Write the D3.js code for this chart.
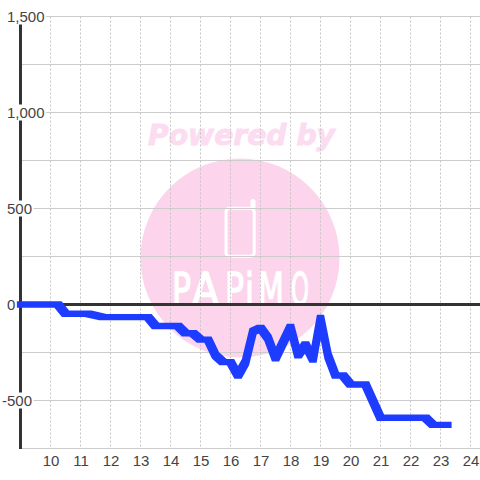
<!DOCTYPE html>
<html><head><meta charset="utf-8">
<script src="https://cdnjs.cloudflare.com/ajax/libs/d3/7.8.5/d3.min.js"></script>
<style>html,body{margin:0;padding:0;background:#fff}svg{display:block}</style></head>
<body><svg id="c" width="480" height="480"></svg>
<script>
const hours=[9,10.25,10.5,11.25,11.75,13.25,13.5,14.25,14.5,14.75,15,15.25,15.5,15.75,16,16.25,16.5,16.75,17,17.25,17.5,18,18.25,18.5,18.75,19,19.25,19.5,19.75,20,20.5,21,22.5,22.75,23.25];
const values=[0,0,-48,-48,-66,-66,-112,-112,-150,-150,-183,-183,-265,-300,-300,-370,-300,-140,-122,-175,-280,-117,-265,-208,-287,-70,-267,-370,-370,-417,-417,-590,-590,-627,-627];
const xTicks=[10,11,12,13,14,15,16,17,18,19,20,21,22,23,24];
const yLabels=["-500","0","500","1,000","1,500"];
const yLabelValues=[-500,0,500,1000,1500];
const yGrid=[-750,-500,-250,250,500,750,1000,1250,1500];
const wmLetters=["P","A","P","i","M","O"];
const wmLeft=[172,192,225,245,258,291];
const wmWidth=[19,27,19,9,26,18];
const x=d3.scaleLinear().domain([9,24.33]).range([20.5,480.4]);
const y=d3.scaleLinear().domain([-750,1500]).range([448.5,16.5]);
const svg=d3.select("#c");
const font="'Liberation Sans',Arial,sans-serif";
// watermark
const wm=svg.append("g");
wm.append("circle").attr("cx",240).attr("cy",258).attr("r",99.5).attr("fill","#fcd5ec");
wm.append("text").attr("x",241.5).attr("y",145).attr("text-anchor","middle").attr("font-family","'DejaVu Sans'").attr("font-weight","bold").attr("font-style","italic").attr("font-size",28).attr("textLength",187).attr("lengthAdjust","spacingAndGlyphs").attr("fill","#fcdcf0").attr("stroke","#fcdcf0").attr("stroke-width",0.9).text("Powered by");
wm.append("rect").attr("x",226).attr("y",208.2).attr("width",28.2).attr("height",48).attr("rx",3.5).attr("fill","none").attr("stroke","#fff").attr("stroke-width",3);
wm.append("line").attr("x1",253).attr("x2",253).attr("y1",208).attr("y2",201.500).attr("stroke","#fff").attr("stroke-width",5).attr("stroke-linecap","round");
wm.append("g").selectAll("text").data(wmLetters).join("text").attr("font-family","'DejaVu Sans'").attr("font-size",44).attr("fill","#fff").attr("stroke","#fff").attr("stroke-width",1.4).text(d=>d)
  .attr("transform",function(d,i){return `translate(${wmLeft[i]},305) scale(${wmWidth[i]/this.getComputedTextLength()},1)`;});
// grid
svg.append("g").selectAll("line").data(yGrid).join("line").attr("x1",x(9)).attr("x2",480).attr("y1",d=>y(d)).attr("y2",d=>y(d)).attr("stroke","#cccccc").attr("stroke-width",1);
svg.append("g").selectAll("line").data(xTicks).join("line").attr("x1",d=>x(d)).attr("x2",d=>x(d)).attr("y1",y(1500)).attr("y2",y(-750)).attr("stroke","#c4c4c4").attr("stroke-width",1).attr("stroke-dasharray","2,2");
// axes
svg.append("line").attr("x1",x(9)).attr("x2",480).attr("y1",y(0)).attr("y2",y(0)).attr("stroke","#333").attr("stroke-width",3);
svg.append("line").attr("x1",x(9)).attr("x2",x(9)).attr("y1",y(1500)).attr("y2",y(-750)+0.5).attr("stroke","#333").attr("stroke-width",3);
// y labels with white boxes
const yl=svg.append("g").selectAll("g").data(yLabels).join("g");
const yt=yl.append("text").attr("x",d=>d[0]==="-"?2:7).attr("y",(d,i)=>y(yLabelValues[i])+5.5).attr("font-family",font).attr("font-size",15).attr("fill","#444").text(d=>d);
yl.insert("rect","text").each(function(d,i){
  const t=this.parentNode.querySelector("text").getBBox();
  d3.select(this).attr("x",t.x).attr("y",y(yLabelValues[i])-8).attr("width",t.width+1.5).attr("height",16).attr("fill",d==="0"?"none":"#fff");
});
// x labels
svg.append("g").selectAll("text").data(xTicks).join("text").attr("x",d=>x(d)+0.5).attr("y",466).attr("text-anchor","middle").attr("font-family",font).attr("font-size",15).attr("fill","#444").text(d=>d);
// line drawn with a rectangular pen: each segment is the hull of the pen at both ends
const hx=3.6,hy=3.2;
const pts=values.map((v,i)=>[x(hours[i]),y(v)]);
const pen=([a,b])=>[[a-hx,b-hy],[a+hx,b-hy],[a+hx,b+hy],[a-hx,b+hy]];
const hulls=d3.pairs(pts).map(([p,q])=>d3.polygonHull(pen(p).concat(pen(q))));
const poly=d3.line();
svg.append("path").attr("d",hulls.map(h=>poly(h)+"Z").join("")).attr("fill","#1e3cff").attr("fill-rule","nonzero");
</script></body></html>
